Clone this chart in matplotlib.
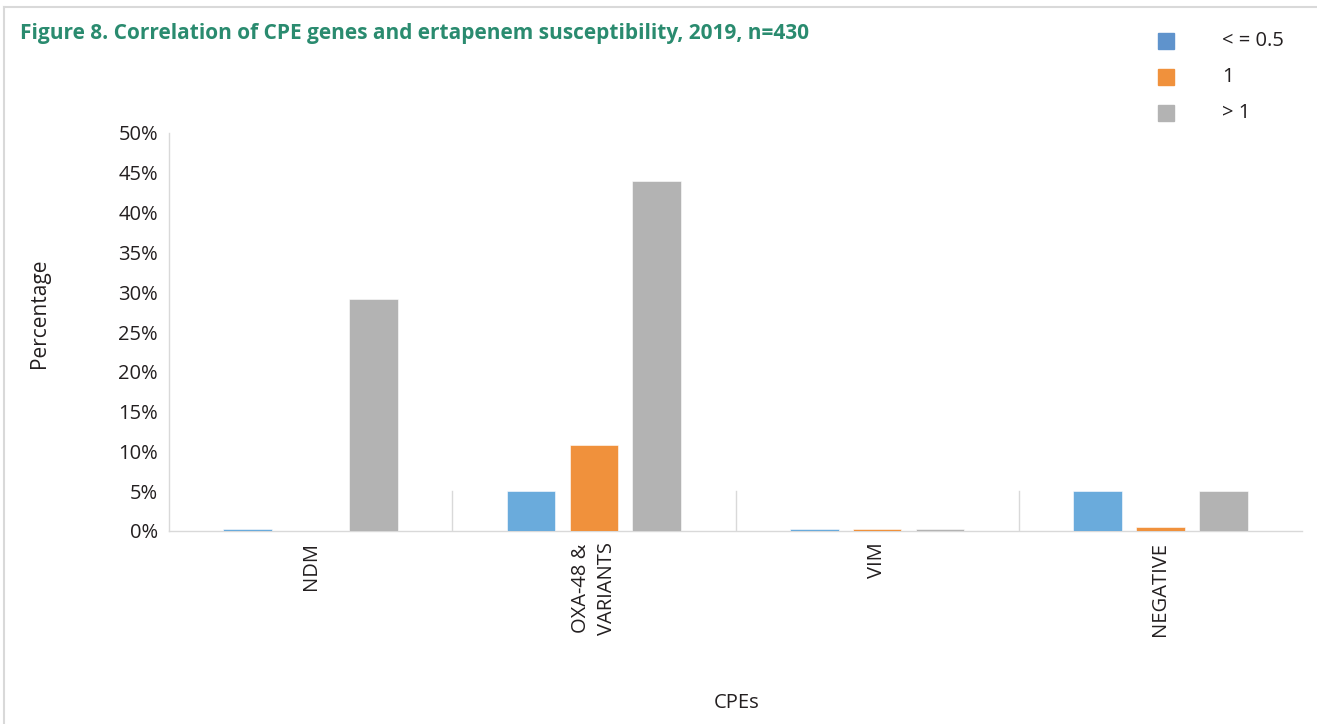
import matplotlib
matplotlib.use("Agg")
import matplotlib.pyplot as plt
import numpy as np
from matplotlib.lines import Line2D
from matplotlib.patches import Rectangle

plt.rcParams['font.family'] = ['Open Sans', 'DejaVu Sans']

categories = ["NDM", "OXA-48 &\nVARIANTS", "VIM", "NEGATIVE"]
series_names = ["< = 0.5", "1", "> 1"]
vals_le05 = [0.2, 5.0, 0.2, 5.0]
vals_1 = [0.0, 10.8, 0.2, 0.5]
vals_gt1 = [29.1, 44.0, 0.2, 5.0]
yticks = [0, 5, 10, 15, 20, 25, 30, 35, 40, 45, 50]

bar_colors = ["#6aabdc", "#f0913c", "#b3b3b3"]
legend_colors = ["#5f93cc", "#f0913c", "#b3b3b3"]

W, H = 1317, 724
fig = plt.figure(figsize=(W / 100, H / 100), dpi=100)

# outer frame lines (top and left)
fig.add_artist(Line2D([4 / W, 4 / W], [0, 1 - 7 / H], color="#d9d9d9", lw=1.5))
fig.add_artist(Line2D([4 / W, 1], [1 - 7 / H, 1 - 7 / H], color="#d9d9d9", lw=1.5))

ax = fig.add_axes([169 / W, 1 - 531 / H, (1302 - 169) / W, (531 - 133) / H])

x = np.arange(len(categories))
width = 0.172
offset = 0.222
for i, (vals, c) in enumerate(zip([vals_le05, vals_1, vals_gt1], bar_colors)):
    ax.bar(x + (i - 1) * offset, vals, width=width, color=c, edgecolor="white", linewidth=0.4, zorder=3)

ax.set_xlim(-0.5, len(categories) - 0.5)
ax.set_ylim(0, 50)
ax.set_yticks(yticks)
ax.set_yticklabels([f"{t}%" for t in yticks], fontsize=14.5, color="#231f20")
ax.set_xticks(x)
ax.set_xticklabels(categories, rotation=90, fontsize=14.5, color="#231f20", va="top", linespacing=1.35)
ax.tick_params(axis="both", length=0, pad=8)

# category separators
for b in np.arange(0.5, len(categories) - 0.5, 1.0):
    ax.plot([b, b], [0, 5], color="#d9d9d9", lw=1, zorder=2)

for s in ["top", "right"]:
    ax.spines[s].set_visible(False)
ax.spines["left"].set_color("#d9d9d9")
ax.spines["bottom"].set_color("#d9d9d9")
ax.spines["left"].set_linewidth(1)
ax.spines["bottom"].set_linewidth(1)

fig.text(737 / W, 1 - 703 / H, "CPEs", ha="center", va="center", fontsize=14.5, color="#231f20")
fig.text(40 / W, 1 - 313 / H, "Percentage", ha="center", va="center", rotation=90, fontsize=15, color="#231f20")

fig.text(20 / W, 1 - 33 / H, "Figure 8. Correlation of CPE genes and ertapenem susceptibility, 2019, n=430",
         ha="left", va="center", fontsize=15, fontweight="bold", color="#2a8b6f")

# legend
for j, (name, c) in enumerate(zip(series_names, legend_colors)):
    yc = [41, 77, 113][j]
    fig.add_artist(Rectangle(((1158) / W, 1 - (yc + 8) / H), 16 / W, 16 / H, color=c))
    fig.text(1222 / W, 1 - yc / H, name, ha="left", va="center", fontsize=14.5, color="#231f20")

fig.savefig("out.png", dpi=100, facecolor="white")
